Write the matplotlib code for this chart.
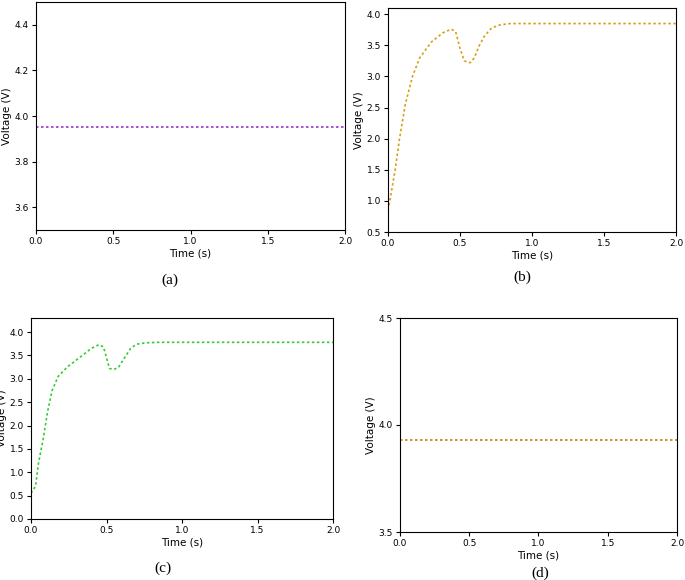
import matplotlib
matplotlib.use("Agg")
import matplotlib.pyplot as plt

a_t = [0.0, 2.0]
a_v = [3.95, 3.95]
b_t = [0.0, 0.02, 0.05, 0.08, 0.12, 0.17, 0.22, 0.30, 0.38, 0.44, 0.47, 0.50, 0.53, 0.57, 0.60, 0.63, 0.67, 0.72, 0.78, 0.85, 0.95, 2.0]
b_v = [0.85, 1.1, 1.5, 2.0, 2.55, 3.0, 3.3, 3.55, 3.7, 3.76, 3.72, 3.45, 3.25, 3.22, 3.3, 3.48, 3.65, 3.78, 3.83, 3.85, 3.85, 3.85]
c_t = [0.0, 0.03, 0.05, 0.08, 0.11, 0.14, 0.18, 0.24, 0.32, 0.40, 0.45, 0.48, 0.50, 0.52, 0.55, 0.58, 0.62, 0.66, 0.70, 0.76, 0.85, 2.0]
c_v = [0.55, 0.7, 1.2, 1.7, 2.3, 2.75, 3.05, 3.25, 3.45, 3.65, 3.73, 3.68, 3.45, 3.22, 3.2, 3.25, 3.45, 3.65, 3.74, 3.77, 3.78, 3.78]
d_t = [0.0, 2.0]
d_v = [3.93, 3.93]

fig = plt.figure(figsize=(6.85, 5.8), dpi=100)
W, H = 685, 580
def ax_px(l, r, t, b):
    return fig.add_axes([l / W, 1 - b / H, (r - l) / W, (b - t) / H])

specs = [
    ((36, 345, 2, 230), a_t, a_v, "#9932cc", (3.5, 4.5), [3.6, 3.8, 4.0, 4.2, 4.4], "(a)", (170, 280)),
    ((388, 676, 8, 232), b_t, b_v, "#d4a017", (0.5, 4.1), [0.5, 1.0, 1.5, 2.0, 2.5, 3.0, 3.5, 4.0], "(b)", (522, 277)),
    ((31, 333, 318, 519), c_t, c_v, "#33cc33", (0.0, 4.3), [0.0, 0.5, 1.0, 1.5, 2.0, 2.5, 3.0, 3.5, 4.0], "(c)", (163, 568)),
    ((400, 677, 318, 532), d_t, d_v, "#b8860b", (3.5, 4.5), [3.5, 4.0, 4.5], "(d)", (540, 573)),
]
for box, t, v, col, yl, yt, lab, lp in specs:
    ax = ax_px(*box)
    ax.plot(t, v, color=col, ls=(0, (1.5, 1.5)), lw=1.2)
    ax.set_xlim(0, 2)
    ax.set_ylim(*yl)
    ax.set_xticks([0, 0.5, 1.0, 1.5, 2.0])
    ax.set_yticks(yt)
    ax.tick_params(labelsize=6.5, direction="out", length=3, pad=2)
    ax.set_xlabel("Time (s)", fontsize=7.5, labelpad=2)
    ax.set_ylabel("Voltage (V)", fontsize=7.5, labelpad=2)
    fig.text(lp[0] / W, 1 - lp[1] / H, lab, ha="center", va="center", fontsize=11, family="Liberation Serif")

fig.savefig("out.png", dpi=100)
